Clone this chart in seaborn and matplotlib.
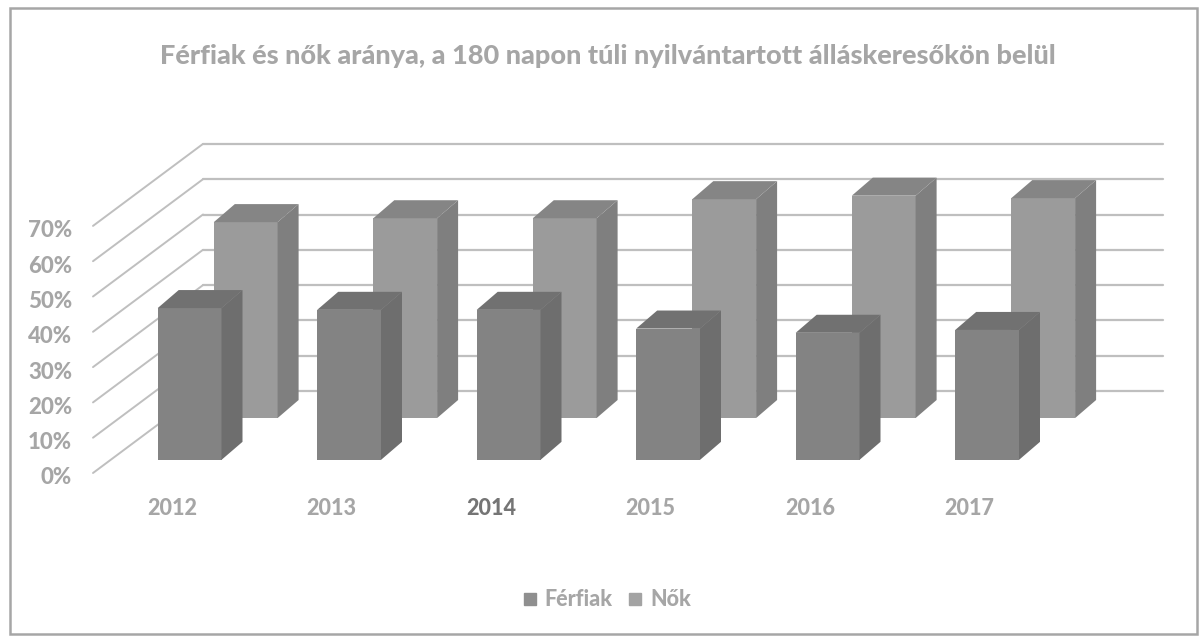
import matplotlib
matplotlib.use('Agg')
import matplotlib.pyplot as plt
from matplotlib.patches import Polygon, Rectangle
from matplotlib.lines import Line2D
from matplotlib.transforms import ScaledTranslation
import seaborn as sns
import pandas as pd

years = ['2012', '2013', '2014', '2015', '2016', '2017']
ferfiak = [43.0, 42.5, 42.5, 37.2, 36.0, 36.8]
nok = [55.5, 56.6, 56.6, 62.0, 63.0, 62.3]
yticks = [0, 10, 20, 30, 40, 50, 60, 70]

TITLE = 'Férfiak és nők aránya, a 180 napon túli nyilvántartott álláskeresőkön belül'
TEXT = '#a6a6a6'
GRID = '#bfbfbf'

# fake 3d: depth 0 is the front of the floor, depth 1 the back wall
DX = 110 / 159.5
DY = 82 / 3.53
BAR_DX = 21 / 159.5

sns.set_theme(style='white')
plt.rcParams['font.family'] = ['Lato', 'DejaVu Sans']

fig = plt.figure(figsize=(11.99, 6.41), dpi=100)
ax = fig.add_axes([93 / 1199, 1 - 473 / 641, (1163 - 93) / 1199, (473 - 144) / 641])


def bars3d(values, d0, d1, front, side, top, z):
    df = pd.DataFrame({'pos': [i + DX * d0 for i in range(len(values))], 'val': values})
    n = len(ax.patches)
    sns.barplot(data=df, x='pos', y='val', native_scale=True, width=0.4, color=front,
                saturation=1, errorbar=None, bottom=DY * d0, zorder=z, legend=False,
                linewidth=0, ax=ax)
    oy = DY * (d1 - d0)
    for b in ax.patches[n:]:
        x0, x1 = b.get_x(), b.get_x() + b.get_width()
        y0, y1 = b.get_y(), b.get_y() + b.get_height()
        ax.add_patch(Polygon([(x1, y0), (x1 + BAR_DX, y0 + oy), (x1 + BAR_DX, y1 + oy), (x1, y1)],
                             fc=side, ec='none', zorder=z))
        ax.add_patch(Polygon([(x0, y1), (x1, y1), (x1 + BAR_DX, y1 + oy), (x0 + BAR_DX, y1 + oy)],
                             fc=top, ec='none', zorder=z))


bars3d(nok, 0.67, 0.89, '#9b9b9b', '#7f7f7f', '#858585', 3)
bars3d(ferfiak, 0.16, 0.38, '#838383', '#6e6e6e', '#717171', 5)

ax.set_xlim(-79 / 159.5, 991 / 159.5)
ax.set_ylim(0, 329 / 3.53)

# walls
for t in yticks:
    ax.plot([-79 / 159.5, -79 / 159.5 + DX], [t, t + DY], color=GRID, lw=1.4, zorder=1)
    ax.plot([-79 / 159.5 + DX, 991 / 159.5], [t + DY, t + DY], color=GRID, lw=1.6, zorder=1)

sns.despine(ax=ax, left=True, bottom=True)
ax.patch.set_visible(False)
ax.set_xlabel('')
ax.set_ylabel('')
ax.set_xticks(range(len(years)))
ax.set_xticklabels(years)
ax.set_yticks(yticks)
ax.set_yticklabels([f'{t}%' for t in yticks])
ax.tick_params(axis='x', length=0, pad=18, labelsize=15.5, labelcolor=TEXT)
ax.tick_params(axis='y', length=0, pad=15, labelsize=16, labelcolor=TEXT)
down = ScaledTranslation(0, -3 / 100, fig.dpi_scale_trans)
for lab in ax.get_xticklabels() + ax.get_yticklabels():
    lab.set_fontweight(900)
for lab in ax.get_yticklabels():
    lab.set_transform(lab.get_transform() + down)
# 2014 comes out darker in the scan
ax.get_xticklabels()[years.index('2014')].set_color('#757575')
for b in ax.patches + ax.lines:
    b.set_clip_on(False)

fig.text(608 / 1199, 1 - 56 / 641, TITLE, ha='center', va='center', fontsize=19.5,
         fontweight=900, color=TEXT)

handles = [Line2D([], [], marker='s', ls='', ms=8, color='#8f8f8f'),
           Line2D([], [], marker='s', ls='', ms=8, color='#a3a3a3')]
fig.legend(handles, ['Férfiak', 'Nők'], loc='center', bbox_to_anchor=(606 / 1199, 1 - 600 / 641),
           ncol=2, frameon=False, labelcolor=TEXT, handlelength=0.8, handletextpad=0.3,
           columnspacing=0.63, prop={'weight': 900, 'size': 15.5})

fig.add_artist(Rectangle((9.5 / 1199, 1 - 634 / 641), 1187 / 1199, 626 / 641,
                         transform=fig.transFigure, fc='none', ec='#a6a6a6', lw=1.8))

fig.savefig('out.png', dpi=100)
